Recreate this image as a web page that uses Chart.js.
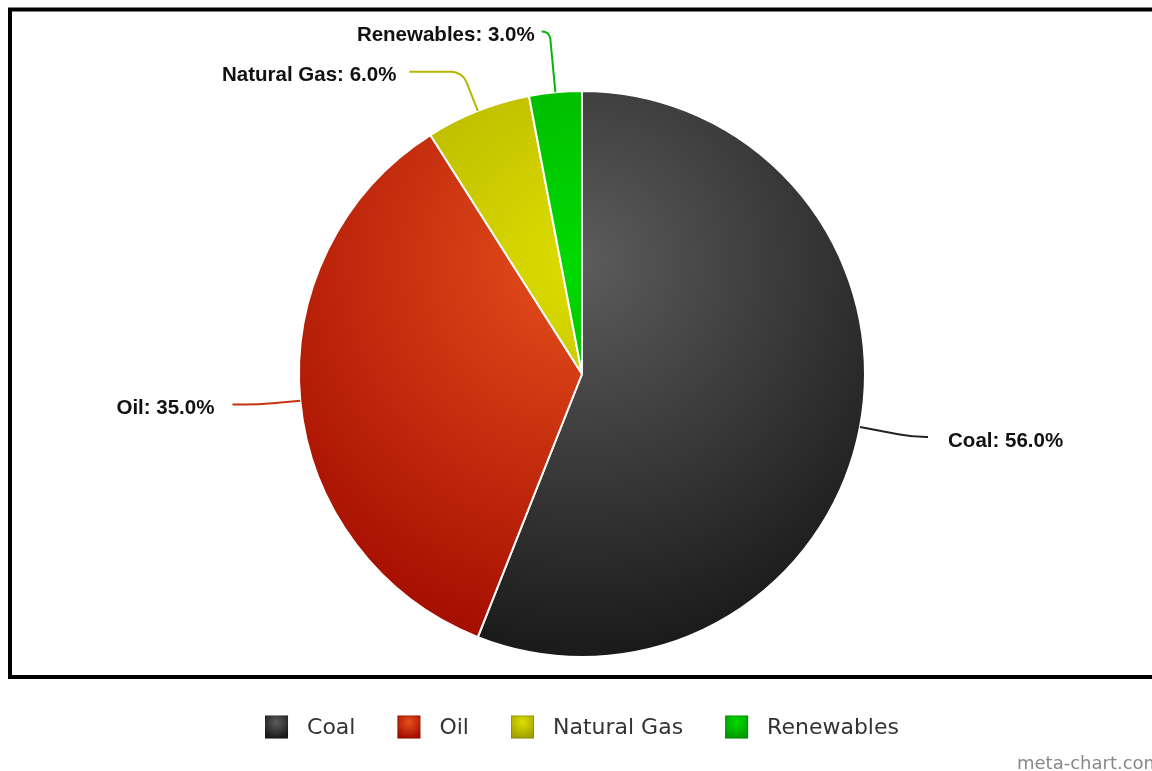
<!DOCTYPE html>
<html>
<head>
<meta charset="utf-8">
<script src="https://cdn.jsdelivr.net/npm/chart.js@4/dist/chart.umd.min.js"></script>
<style>
  html, body { margin: 0; padding: 0; background: #fff; }
  #wrap { width: 1152px; height: 771px; }
</style>
</head>
<body>
<div id="wrap"><canvas id="energyPie" width="1152" height="771"></canvas></div>
<script>
// energy mix, share of total (%)
var energyLabels = ["Coal", "Oil", "Natural Gas", "Renewables"];
var energyValues = [56, 35, 6, 3];

// light centre / dark rim of each slice gradient
var innerColors = ["#5c5c5c", "#e6501c", "#dede00", "#00da00"];
var outerColors = ["#1a1a1a", "#a40c00", "#a0a000", "#009a00"];
var lineColors  = ["#222222", "#c8320e", "#b5b500", "#00b800"];

// connector shape per label: knee distance past the rim, horizontal run, text gap, bend radius
var labelLayout = [
    { knee: 53, run: 16, pad: 20, bend: 150 },
    { knee: 42, run: 26, pad: 18, bend: 300 },
    { knee: 42, run: 53, pad: 13, bend: 16 },
    { knee: 61, run: 8,  pad: 7,  bend: 8 }
];

function sliceFill(context) {
    var chart = context.chart;
    var area = chart.chartArea;
    var i = context.dataIndex;
    if (!area) return innerColors[i];
    var d = Math.min(area.right - area.left, area.bottom - area.top);
    var cx = (area.left + area.right) / 2;
    var top = (area.top + area.bottom) / 2 - d / 2;
    var g = chart.ctx.createRadialGradient(cx, top + 0.3 * d, 0, cx, top + 0.3 * d, 0.7 * d);
    g.addColorStop(0, innerColors[i]);
    g.addColorStop(1, outerColors[i]);
    return g;
}

var framePlugin = {
    id: 'frame',
    beforeDraw: function(chart) {
        var ctx = chart.ctx;
        ctx.save();
        ctx.fillStyle = '#fff';
        ctx.fillRect(0, 0, chart.width, chart.height);
        ctx.strokeStyle = '#000';
        ctx.lineWidth = 4;
        ctx.strokeRect(10, 9.5, chart.width + 20, 667.5);
        ctx.restore();
    }
};

var sliceLabels = {
    id: 'sliceLabels',
    afterDatasetsDraw: function(chart) {
        var ctx = chart.ctx;
        var meta = chart.getDatasetMeta(0);
        var total = energyValues.reduce(function(a, b) { return a + b; }, 0);
        ctx.save();
        ctx.font = 'bold 20.5px "Liberation Sans", Arial, sans-serif';
        ctx.textBaseline = 'middle';
        meta.data.forEach(function(arc, i) {
            var p = arc.getProps(['x', 'y', 'startAngle', 'endAngle', 'outerRadius'], true);
            var mid = (p.startAngle + p.endAngle) / 2;
            var cos = Math.cos(mid), sin = Math.sin(mid);
            var side = cos >= 0 ? 1 : -1;
            var lay = labelLayout[i];
            var sx = p.x + cos * p.outerRadius, sy = p.y + sin * p.outerRadius;
            var kx = p.x + cos * (p.outerRadius + lay.knee), ky = p.y + sin * (p.outerRadius + lay.knee);
            var ex = kx + side * lay.run, ey = ky;

            ctx.beginPath();
            ctx.moveTo(sx, sy);
            ctx.arcTo(kx, ky, ex, ey, lay.bend);
            ctx.lineTo(ex, ey);
            ctx.strokeStyle = lineColors[i];
            ctx.lineWidth = 2;
            ctx.stroke();

            var pct = (energyValues[i] / total * 100).toFixed(1);
            ctx.fillStyle = '#111';
            ctx.textAlign = side > 0 ? 'left' : 'right';
            ctx.fillText(energyLabels[i] + ': ' + pct + '%', ex + side * lay.pad, ey + 4);
        });
        ctx.restore();
    }
};

var bottomLegend = {
    id: 'bottomLegend',
    afterDraw: function(chart) {
        var ctx = chart.ctx;
        var box = 23, gap = 19, spacing = 42, y = 727;
        ctx.save();
        ctx.font = '22px "DejaVu Sans", sans-serif';
        ctx.textBaseline = 'middle';
        var widths = energyLabels.map(function(t) { return ctx.measureText(t).width; });
        var full = widths.reduce(function(a, w) { return a + box + gap + w; }, 0) + spacing * (energyLabels.length - 1);
        var x = (chart.chartArea.left + chart.chartArea.right) / 2 - full / 2;
        energyLabels.forEach(function(t, i) {
            var g = ctx.createRadialGradient(x + box / 2, y - box / 2 + 0.3 * box, 0, x + box / 2, y - box / 2 + 0.3 * box, 0.7 * box);
            g.addColorStop(0, innerColors[i]);
            g.addColorStop(1, outerColors[i]);
            ctx.fillStyle = g;
            ctx.fillRect(x, y - box / 2, box, box);
            ctx.strokeStyle = 'rgba(0,0,0,0.15)';
            ctx.lineWidth = 1;
            ctx.strokeRect(x + 0.5, y - box / 2 + 0.5, box - 1, box - 1);
            ctx.fillStyle = '#333';
            ctx.textAlign = 'left';
            ctx.fillText(t, x + box + gap, y + 1);
            x += box + gap + widths[i] + spacing;
        });
        ctx.font = '18px "DejaVu Sans", sans-serif';
        ctx.fillStyle = '#888';
        ctx.textBaseline = 'alphabetic';
        ctx.fillText('meta-chart.com', 1017, 769);
        ctx.restore();
    }
};

var pieConfig = {
    type: 'pie',
    data: {
        labels: energyLabels,
        datasets: [{
            data: energyValues,
            backgroundColor: sliceFill,
            borderColor: '#ffffff',
            borderWidth: 2,
            radius: 283
        }]
    },
    options: {
        responsive: false,
        animation: false,
        events: [],
        layout: {
            padding: { left: 12, right: 0, top: 91, bottom: 114 }
        },
        plugins: {
            legend: { display: false },
            tooltip: { enabled: false }
        }
    },
    plugins: [framePlugin, sliceLabels, bottomLegend]
};

var pieCtx = document.getElementById("energyPie");
var pieChart = new Chart(pieCtx, pieConfig);
</script>
</body>
</html>
